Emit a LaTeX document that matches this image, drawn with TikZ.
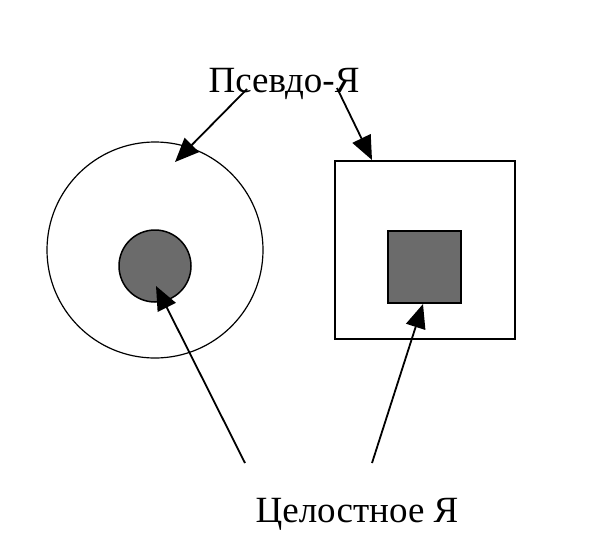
\documentclass[tikz,border=0pt]{standalone}
\usepackage{fontspec}
\setmainfont{Liberation Serif}
\usetikzlibrary{arrows.meta}
\definecolor{fillgray}{HTML}{6B6B6B}
\begin{document}
\begin{tikzpicture}[x=1pt,y=-1pt,
  lbl/.style={font=\fontsize{37}{40}\selectfont, inner sep=0pt, anchor=base},
  arr/.style={line width=1.8pt, -{Triangle[length=24pt,width=20pt]}},
  thin/.style={line width=1.2pt},
  core/.style={line width=1.5pt, fill=fillgray}]
\useasboundingbox (0,0) rectangle (604,552);
% shapes
\draw[thin] (155,250) circle[radius=108];
\draw[core] (155,266) circle[radius=36];
\draw[line width=1.5pt] (335,161) rectangle (515,339);
\draw[core] (388,231) rectangle (461,303);
% labels
\node[lbl] (pseudo) at (284,92) {Псевдо-Я};
\node[lbl] (whole) at (357,522) {Целостное Я};
% arrow coordinates
\coordinate (p1) at (247,89);
\coordinate (p2) at (337,88);
\coordinate (t1) at (175,162);
\coordinate (t2) at (372,160);
\coordinate (w1) at (245,463);
\coordinate (w2) at (372,463);
\coordinate (t3) at (156,286);
\coordinate (t4) at (423,304);
\draw[arr] (p1) -- (t1);
\draw[arr] (p2) -- (t2);
\draw[arr] (w1) -- (t3);
\draw[arr] (w2) -- (t4);
\end{tikzpicture}
\end{document}
